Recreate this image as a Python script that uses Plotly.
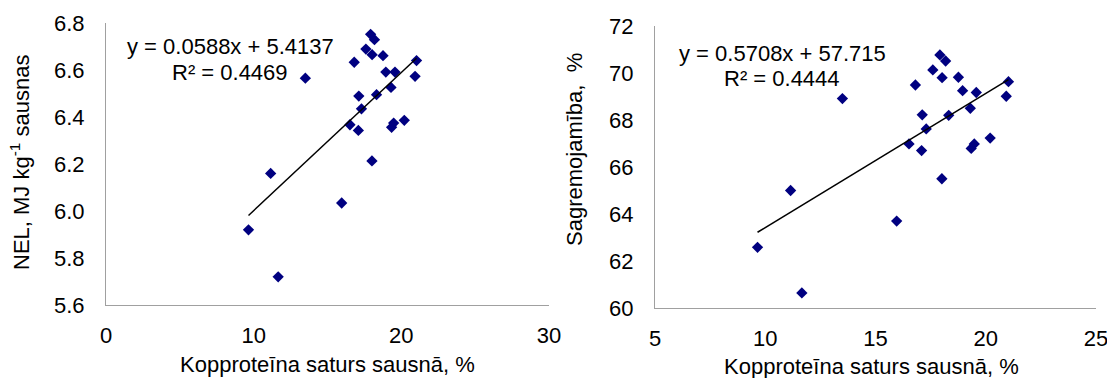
import plotly.graph_objects as go

# Shared x values: crude protein content in dry matter, %
protein = [9.65, 11.66, 11.15, 13.5, 15.96, 16.52, 16.81, 17.09, 17.12, 17.3,
           17.6, 17.92, 18.18, 18.02, 18.01, 18.32, 18.76, 18.95, 19.57, 19.3,
           19.34, 19.48, 20.2, 21.03, 20.93]
# NEL, MJ kg-1 DM
nel = [5.92, 5.72, 6.16, 6.565, 6.034, 6.367, 6.633, 6.343, 6.489, 6.435,
       6.689, 6.752, 6.729, 6.665, 6.213, 6.495, 6.661, 6.591, 6.591, 6.526,
       6.356, 6.374, 6.386, 6.640, 6.573]
# Digestibility, %
digest = [62.58, 60.64, 65.0, 68.91, 63.70, 66.98, 69.49, 66.70, 68.22, 67.62,
          70.13, 70.77, 70.51, 69.80, 65.50, 68.20, 69.82, 69.25, 69.17, 68.50,
          66.79, 66.98, 67.23, 69.63, 69.01]

# Trend line coefficients (as printed on the chart)
nel_slope, nel_intercept, nel_r2 = 0.0588, 5.4137, 0.4469
dig_slope, dig_intercept, dig_r2 = 0.5708, 57.715, 0.4444

left_xticks = [0, 10, 20, 30]
left_yticks = [5.6, 5.8, 6.0, 6.2, 6.4, 6.6, 6.8]
right_xticks = [5, 10, 15, 20, 25]
right_yticks = [60, 62, 64, 66, 68, 70, 72]

W, H = 1107, 378
FONT = "Liberation Sans, Arial, sans-serif"
MARK = "#000080"
AXC = "#a0a0a0"

xmin, xmax = min(protein), max(protein)

fig = go.Figure()
fig.add_trace(go.Scatter(x=protein, y=nel, mode="markers", xaxis="x", yaxis="y",
                         marker=dict(symbol="diamond", size=8.7, color=MARK)))
fig.add_trace(go.Scatter(x=[xmin, xmax],
                         y=[nel_slope * xmin + nel_intercept, nel_slope * xmax + nel_intercept],
                         mode="lines", xaxis="x", yaxis="y",
                         line=dict(color="black", width=1.5)))
fig.add_trace(go.Scatter(x=protein, y=digest, mode="markers", xaxis="x2", yaxis="y2",
                         marker=dict(symbol="diamond", size=8.7, color=MARK)))
fig.add_trace(go.Scatter(x=[xmin, xmax],
                         y=[dig_slope * xmin + dig_intercept, dig_slope * xmax + dig_intercept],
                         mode="lines", xaxis="x2", yaxis="y2",
                         line=dict(color="black", width=1.5)))


def px_x(p):
    return p / W


def px_y(p):
    return 1 - p / H


axis_common = dict(showgrid=False, zeroline=False, showline=True, linecolor=AXC,
                   linewidth=1, ticks="outside", tickcolor="rgba(0,0,0,0)",
                   automargin=False, ticklabeloverflow="allow",
                   tickfont=dict(family=FONT, size=22, color="#000000"))

fig.update_layout(
    width=W, height=H, margin=dict(l=0, r=0, t=0, b=0, autoexpand=False),
    paper_bgcolor="white", plot_bgcolor="white", showlegend=False,
    font=dict(family=FONT, size=22, color="#000000"),
    xaxis=dict(domain=[px_x(106), px_x(549)], range=[0, 30], tickvals=left_xticks,
               anchor="y", ticklen=11, **axis_common),
    yaxis=dict(domain=[px_y(305), px_y(23)], range=[5.6, 6.8], tickvals=left_yticks,
               tickformat=".1f", anchor="x", ticklen=16, **axis_common),
    xaxis2=dict(domain=[px_x(655), px_x(1096)], range=[5, 25.0001], tickvals=right_xticks,
                anchor="y2", ticklen=11, **axis_common),
    yaxis2=dict(domain=[px_y(308), px_y(26)], range=[60, 72], tickvals=right_yticks,
                anchor="x2", ticklen=16, **axis_common),
)

ann = []


def add_text(text, xp, yp, angle=0):
    ann.append(dict(text=text, x=px_x(xp), y=px_y(yp), xref="paper", yref="paper",
                    xanchor="center", yanchor="middle", showarrow=False,
                    textangle=angle, font=dict(family=FONT, size=22, color="#000000")))


add_text(f"y = {nel_slope}x + {nel_intercept}", 230, 47)
add_text(f"R² = {nel_r2}", 230, 72)
add_text(f"y = {dig_slope}x + {dig_intercept}", 782, 54)
add_text(f"R² = {dig_r2}", 782, 79)
add_text("Kopproteīna saturs sausnā, %", 327, 364)
add_text("Kopproteīna saturs sausnā, %", 871, 366)
add_text("NEL, MJ kg<sup>-1</sup> sausnas", 20, 163, -90)
add_text("Sagremojamība,  %", 575, 150, -90)
fig.update_layout(annotations=ann)

fig.write_html("out.html")
